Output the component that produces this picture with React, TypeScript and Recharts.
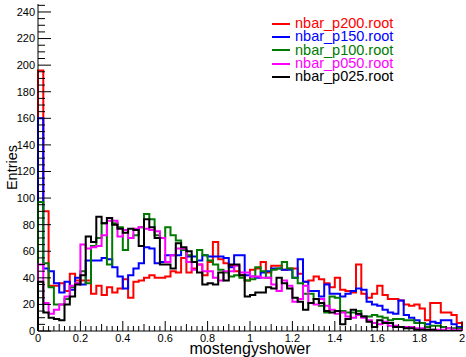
import { Line, LineChart, XAxis, YAxis } from 'recharts'

const FONT = '"Liberation Sans", Arial, Helvetica, sans-serif'

// histogram: 80 bins of 0.025 between 0 and 2
const NBINS = 80
const BIN_WIDTH = 0.025
const binLow = Array.from({ length: NBINS }, (_, i) => +(i * BIN_WIDTH).toFixed(3))

const p200 = [
  196, 90, 34, 34, 36, 30, 43, 38, 38, 38,
  28, 34, 27, 33, 29, 32, 39, 25, 37, 38,
  40, 42, 40, 40, 41, 45, 44, 55, 44, 47,
  50, 42, 52, 67, 54, 51, 49, 45, 42, 38,
  46, 47, 52, 44, 49, 49, 46, 47, 47, 43,
  37, 38, 41, 39, 36, 33, 40, 31, 30, 29,
  50, 28, 25, 28, 34, 27, 24, 24, 23, 20,
  19, 20, 17, 8, 21, 21, 14, 14, 12, 6,
]
const p150 = [
  160, 47, 45, 36, 29, 37, 31, 40, 35, 53,
  53, 53, 55, 54, 48, 41, 32, 42, 47, 51,
  63, 62, 51, 52, 57, 57, 57, 61, 56, 56,
  53, 57, 56, 56, 56, 55, 48, 57, 57, 42,
  41, 40, 44, 45, 47, 47, 46, 46, 40, 54,
  37, 30, 30, 26, 35, 28, 28, 26, 28, 30,
  32, 31, 22, 20, 19, 16, 14, 13, 23, 12,
  10, 8, 6, 5, 7, 6, 8, 8, 5, 3,
]
const p100 = [
  97, 51, 33, 20, 20, 24, 33, 36, 45, 36,
  64, 70, 81, 50, 81, 78, 61, 70, 72, 78,
  88, 84, 72, 70, 78, 72, 68, 61, 57, 52,
  61, 57, 53, 50, 46, 44, 41, 42, 40, 38,
  39, 48, 45, 40, 46, 47, 52, 47, 40, 36,
  28, 28, 24, 19, 14, 26, 25, 15, 14, 14,
  15, 11, 11, 12, 11, 10, 8, 9, 9, 8,
  8, 6, 6, 3, 4, 4, 3, 2, 2, 2,
]
const p050 = [
  50, 21, 13, 16, 20, 26, 34, 36, 65, 62,
  63, 64, 72, 83, 83, 71, 76, 70, 77, 78,
  77, 76, 75, 70, 52, 57, 62, 62, 52, 46,
  50, 45, 45, 40, 38, 45, 45, 49, 44, 44,
  41, 41, 40, 40, 35, 30, 38, 34, 22, 24,
  34, 21, 20, 24, 19, 16, 13, 14, 11, 10,
  12, 10, 8, 6, 5, 7, 4, 4, 3, 3,
  3, 2, 2, 1, 1, 1, 1, 2, 1, 1,
]
const p025 = [
  37, 14, 10, 9, 8, 20, 26, 35, 42, 71,
  67, 86, 81, 85, 80, 77, 74, 77, 76, 64,
  84, 78, 70, 50, 50, 47, 66, 63, 60, 52,
  44, 35, 36, 35, 44, 38, 50, 50, 42, 26,
  27, 29, 29, 33, 32, 40, 36, 32, 25, 22,
  16, 21, 24, 21, 15, 14, 15, 5, 9, 16,
  13, 11, 7, 3, 8, 6, 6, 3, 3, 2,
  2, 1, 1, 1, 1, 0, 0, 0, 0, 0,
]

const series = [
  { key: 'p200', name: 'nbar_p200.root', color: '#ff0000', values: p200 },
  { key: 'p150', name: 'nbar_p150.root', color: '#0000ff', values: p150 },
  { key: 'p100', name: 'nbar_p100.root', color: '#007a00', values: p100 },
  { key: 'p050', name: 'nbar_p050.root', color: '#ff00ff', values: p050 },
  { key: 'p025', name: 'nbar_p025.root', color: '#000000', values: p025 },
]

const xTicks = Array.from({ length: NBINS + 1 }, (_, i) => +(i * BIN_WIDTH).toFixed(3))
const yTicks = Array.from({ length: 50 }, (_, i) => i * 5)

// outline like ROOT "hist": start and end on zero
function buildRows() {
  const zero: Record<string, number> = { x: 0 }
  series.forEach((s) => (zero[s.key] = 0))
  const rows: Record<string, number>[] = [zero]
  binLow.forEach((x, i) => {
    const r: Record<string, number> = { x }
    series.forEach((s) => (r[s.key] = s.values[i]))
    rows.push(r)
  })
  const last: Record<string, number> = { x: 2 }
  series.forEach((s) => (last[s.key] = s.values[NBINS - 1]))
  rows.push(last)
  rows.push({ ...zero, x: 2 })
  return rows
}
const data = buildRows()

function XTick({ x, y, payload }: any) {
  const v = payload.value
  const major = Math.abs(v / 0.2 - Math.round(v / 0.2)) < 1e-6
  const mid = Math.abs(v / 0.1 - Math.round(v / 0.1)) < 1e-6
  const len = major ? 10 : mid ? 7 : 5
  return (
    <g>
      <line x1={x} x2={x} y1={y} y2={y - len} stroke="#000" />
      {major && (
        <text x={x} y={y + 11} textAnchor="middle" fontSize={11} fontFamily={FONT} fill="#000">
          {String(Math.round(v * 10) / 10)}
        </text>
      )}
    </g>
  )
}

function YTick({ x, y, payload }: any) {
  const v = payload.value
  const major = v % 20 === 0
  return (
    <g>
      <line x1={x} x2={x + (major ? 13 : 7)} y1={y} y2={y} stroke="#000" />
      {major && (
        <text x={x - 3} y={y} dy="0.35em" textAnchor="end" fontSize={11} fontFamily={FONT} fill="#000">
          {v}
        </text>
      )}
    </g>
  )
}

function HistLegend() {
  return (
    <div style={{ position: 'absolute', left: 272, top: 17, fontFamily: FONT, fontSize: 14.5 }}>
      {series.map((s) => (
        <div key={s.key} style={{ display: 'flex', alignItems: 'center', height: 13.3, whiteSpace: 'nowrap' }}>
          <div style={{ width: 18, height: 2, background: s.color, marginRight: 5 }} />
          <span style={{ display: 'block', height: 13, lineHeight: '13px', color: s.color }}>{s.name}</span>
        </div>
      ))}
    </div>
  )
}

export default function App() {
  return (
    <div style={{ position: 'absolute', left: 0, top: 0, width: 466, height: 357, background: '#fff', overflow: 'hidden' }}>
      <LineChart width={466} height={357} data={data} margin={{ top: 4, right: 4, left: 0, bottom: 0 }}>
        <XAxis
          dataKey="x"
          type="number"
          domain={[0, 2]}
          ticks={xTicks}
          interval={0}
          height={26}
          tickSize={0}
          tickMargin={0}
          tick={<XTick />}
          axisLine={{ stroke: '#000' }}
          label={{ value: 'mostengyshower', position: 'insideBottom', offset: 3, fontSize: 16, fill: '#000', fontFamily: FONT }}
        />
        <YAxis
          type="number"
          domain={[0, 246]}
          allowDataOverflow
          ticks={yTicks}
          interval={0}
          width={38}
          tickSize={0}
          tickMargin={0}
          tick={<YTick />}
          axisLine={{ stroke: '#000' }}
          label={{
            value: 'Entries',
            angle: -90,
            position: 'insideLeft',
            offset: 12,
            fontSize: 14.5,
            fill: '#000',
            fontFamily: FONT,
            style: { textAnchor: 'middle' },
          }}
        />
        {series.map((s) => (
          <Line
            key={s.key}
            type="stepAfter"
            dataKey={s.key}
            name={s.name}
            stroke={s.color}
            strokeWidth={2}
            dot={false}
            activeDot={false}
            isAnimationActive={false}
          />
        ))}
      </LineChart>
      <HistLegend />
    </div>
  )
}
